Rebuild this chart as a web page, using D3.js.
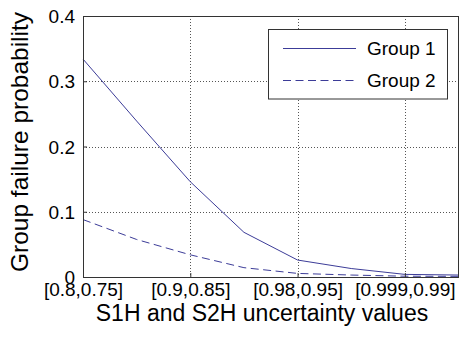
<!DOCTYPE html>
<html>
<head>
<meta charset="utf-8">
<script src="https://cdn.jsdelivr.net/npm/d3@7"></script>
<style>
  html, body { margin: 0; padding: 0; background: #fff; }
  svg { display: block; font-family: Arial, "Liberation Sans", sans-serif; }
</style>
</head>
<body>
<div id="chart"></div>
<script>
// Tick categories on the x axis (uncertainty intervals for S1H, S2H)
const tickLabels = ['[0.8,0.75]', '[0.9,0.85]', '[0.98,0.95]', '[0.999,0.99]'];
// x positions of the samples, in tick units (half steps between labels)
const xSteps = [0, 0.5, 1, 1.5, 2, 2.5, 3, 3.5];
// Failure probabilities
const group1 = [0.334, 0.239, 0.146, 0.0685, 0.026, 0.013, 0.004, 0.003];
const group2 = [0.088, 0.0575, 0.034, 0.0143, 0.0055, 0.003, 0.0012, 0.001];
const yTicks = [0, 0.1, 0.2, 0.3, 0.4];
const seriesNames = ['Group 1', 'Group 2'];

const W = 459, H = 337;
const plot = { left: 83, top: 16, right: 458.5, bottom: 277 };
const lineColor = '#3c3c98';
const axisColor = '#333';
const textColor = '#000';

const svg = d3.select('#chart').append('svg')
  .attr('width', W)
  .attr('height', H);

const x = d3.scaleLinear().domain([0, 3.5]).range([plot.left, plot.right]);
const y = d3.scaleLinear().domain([0, 0.4]).range([plot.bottom, plot.top]);

// Dotted grid
const grid = svg.append('g').attr('class', 'grid')
  .attr('stroke', '#555')
  .attr('stroke-width', 1)
  .attr('stroke-dasharray', '1,2');

grid.selectAll('line.gx')
  .data(d3.range(1, tickLabels.length))
  .enter().append('line')
  .attr('x1', (d) => Math.round(x(d)) + 0.5)
  .attr('x2', (d) => Math.round(x(d)) + 0.5)
  .attr('y1', plot.top)
  .attr('y2', plot.bottom);

grid.selectAll('line.gy')
  .data(yTicks.slice(1, -1))
  .enter().append('line')
  .attr('y1', (d) => Math.round(y(d)) + 0.5)
  .attr('y2', (d) => Math.round(y(d)) + 0.5)
  .attr('x1', plot.left)
  .attr('x2', plot.right);

// Series lines
const line = d3.line()
  .x((d, i) => x(xSteps[i]))
  .y((d) => y(d));

svg.append('path')
  .datum(group1)
  .attr('d', line)
  .attr('fill', 'none')
  .attr('stroke', lineColor)
  .attr('stroke-width', 1);

svg.append('path')
  .datum(group2)
  .attr('d', line)
  .attr('fill', 'none')
  .attr('stroke', lineColor)
  .attr('stroke-width', 1)
  .attr('stroke-dasharray', '8,4.5');

// Axes box with inward ticks
const xAxis = d3.axisBottom(x)
  .tickValues(d3.range(tickLabels.length))
  .tickFormat((d) => tickLabels[d])
  .tickSizeInner(-4)
  .tickSizeOuter(0)
  .tickPadding(9);

const yAxis = d3.axisLeft(y)
  .tickValues(yTicks)
  .tickFormat((d) => d === 0 ? '0' : d3.format('.1f')(d))
  .tickSizeInner(-4)
  .tickSizeOuter(0)
  .tickPadding(8);

const gx = svg.append('g')
  .attr('transform', `translate(0,${plot.bottom})`)
  .call(xAxis);
const gy = svg.append('g')
  .attr('transform', `translate(${plot.left},0)`)
  .call(yAxis);

[gx, gy].forEach((g) => {
  g.select('.domain').attr('stroke', axisColor);
  g.selectAll('.tick line').attr('stroke', axisColor);
  g.selectAll('.tick text')
    .attr('fill', textColor)
    .attr('font-size', '19px')
    .attr('font-family', 'Arial, "Liberation Sans", sans-serif');
});
gx.selectAll('.tick text').attr('dy', '0.72em').attr('y', 5.5);
gy.selectAll('.tick text').attr('dy', '0.35em');

// top and right edges of the box
svg.append('line')
  .attr('x1', plot.left).attr('x2', plot.right)
  .attr('y1', plot.top + 0.5).attr('y2', plot.top + 0.5)
  .attr('stroke', axisColor);
svg.append('line')
  .attr('x1', plot.right).attr('x2', plot.right)
  .attr('y1', plot.top).attr('y2', plot.bottom)
  .attr('stroke', axisColor);

// Axis titles
svg.append('text')
  .attr('x', 262)
  .attr('y', 321)
  .attr('text-anchor', 'middle')
  .attr('font-size', '23px')
  .attr('fill', textColor)
  .text('S1H and S2H uncertainty values');

svg.append('text')
  .attr('transform', 'translate(28,142) rotate(-90)')
  .attr('text-anchor', 'middle')
  .attr('font-size', '24.5px')
  .attr('fill', textColor)
  .text('Group failure probability');

// Legend
const legend = svg.append('g').attr('class', 'legend');
legend.append('rect')
  .attr('x', 268.5).attr('y', 29.5)
  .attr('width', 179).attr('height', 69.5)
  .attr('fill', '#fff')
  .attr('stroke', axisColor);

seriesNames.forEach((name, i) => {
  const ly = 48.5 + i * 32;
  legend.append('line')
    .attr('x1', 283).attr('x2', 356)
    .attr('y1', ly).attr('y2', ly)
    .attr('stroke', lineColor)
    .attr('stroke-width', 1)
    .attr('stroke-dasharray', i === 1 ? '8,4.5' : null);
  legend.append('text')
    .attr('x', 367)
    .attr('y', ly)
    .attr('dy', '0.35em')
    .attr('font-size', '19px')
    .attr('fill', textColor)
    .text(name);
});
</script>
</body>
</html>
